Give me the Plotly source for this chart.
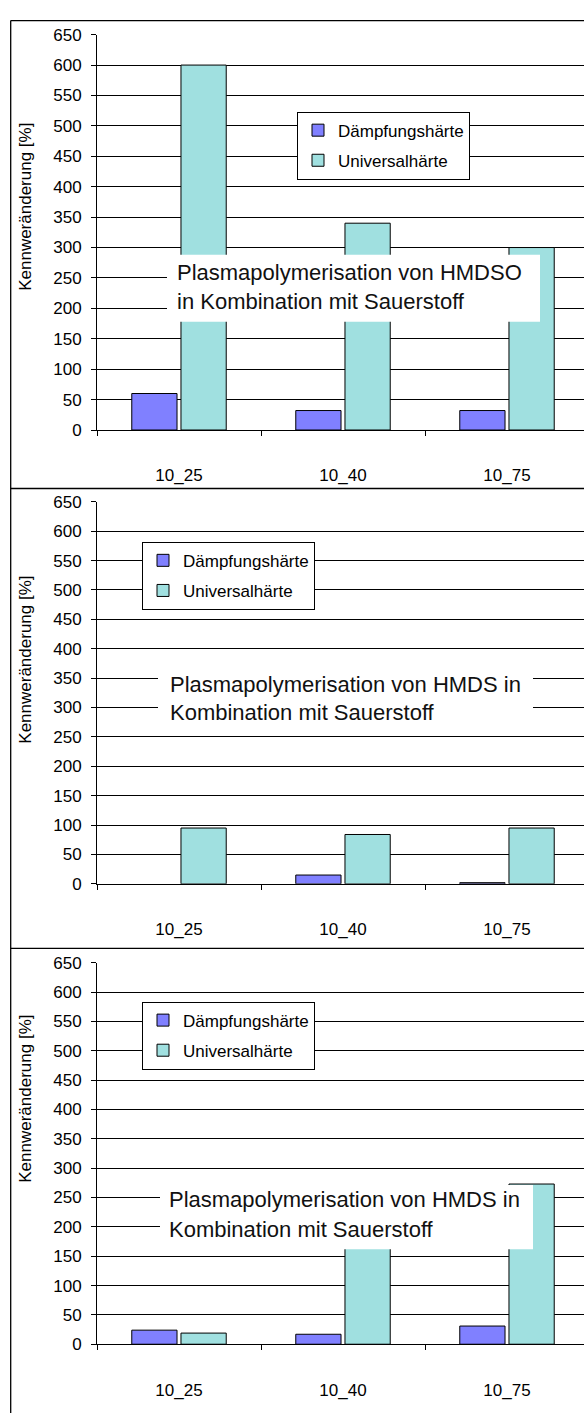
import plotly.graph_objects as go

W, H = 584, 1423

categories = ["10_25", "10_40", "10_75"]
series_names = ["Dämpfungshärte", "Universalhärte"]
p1_daempf = [60, 32, 32]
p1_universal = [600, 340, 300]
p2_daempf = [None, 15, 2]
p2_universal = [95, 84, 95]
p3_daempf = [24, 17, 31]
p3_universal = [19, 200, 273]
y_ticks = list(range(0, 651, 50))
box_texts = [
    ["Plasmapolymerisation von HMDSO", "in Kombination mit Sauerstoff"],
    ["Plasmapolymerisation von HMDS in", "Kombination mit Sauerstoff"],
    ["Plasmapolymerisation von HMDS in", "Kombination mit Sauerstoff"],
]
axis_title = "Kennweränderung [%]"

panels = [(p1_daempf, p1_universal), (p2_daempf, p2_universal), (p3_daempf, p3_universal)]
colors = ["#8080FF", "#A0E0E0"]

FONT = "Liberation Sans, Arial, sans-serif"


def px(x):
    return x / W


def py(y):
    return 1 - y / H


# layout geometry (pixels)
plot_left = 97
cat_w = 164
y_dom = [(26, 426.7), (499.5, 886.7), (966.7, 1353.3)]
legend_pos = [(297, 104), (142, 540), (142, 1006)]
title_y = [201, 660, 1105]
boxes = [
    (167, 249, 540, 317, 175, (267, 296)),
    (158, 656, 533, 730, 168, (685, 713)),
    (160, 1192, 533, 1257, 167, (1207, 1237)),
]
panel_lines = [11.7, 486, 952]

fig = go.Figure()
xs = list(range(len(categories)))
for i, (d, u) in enumerate(panels):
    sfx = "" if i == 0 else str(i + 1)
    leg = "legend" if i == 0 else f"legend{i+1}"
    for j, vals in enumerate([d, u]):
        fig.add_trace(go.Bar(
            x=xs, y=vals, name=series_names[j],
            marker=dict(color=colors[j], line=dict(color="#000000", width=1)),
            xaxis="x" + sfx, yaxis="y" + sfx, legend=leg,
            legendgroup=f"g{i}{j}",
        ))

xrange_ = [-0.5, -0.5 + (W - plot_left) / cat_w]
layout = dict(
    width=W, height=H, margin=dict(l=0, r=0, t=0, b=0),
    paper_bgcolor="white", plot_bgcolor="white",
    barmode="group", bargap=0.4, bargroupgap=0.08,
    font=dict(family=FONT, color="#000000", size=16),
    showlegend=True,
)
shapes = []
annotations = []
for i in range(3):
    sfx = "" if i == 0 else str(i + 1)
    top, bot = y_dom[i]
    layout["xaxis" + sfx] = dict(
        domain=[px(plot_left), 1], range=xrange_, anchor="y" + sfx,
        tickvals=xs, ticktext=categories, ticks="", showgrid=False,
        showline=True, linecolor="#000000", linewidth=1,
        tickfont=dict(size=17), ticklabelstandoff=30,
        minor=dict(ticks="outside", ticklen=5, tick0=0.5, dtick=1,
                   tickcolor="#000000", showgrid=False),
        zeroline=False, fixedrange=True,
    )
    layout["yaxis" + sfx] = dict(
        domain=[py(bot), py(top)], range=[0, 650], anchor="x" + sfx,
        tickvals=y_ticks, ticks="outside", ticklen=5, tickcolor="#000000",
        showgrid=True, gridcolor="#000000", gridwidth=1,
        showline=True, linecolor="#000000", linewidth=1,
        tickfont=dict(size=17), ticklabelstandoff=6,
        zeroline=False, fixedrange=True,
    )
    lx, ly = legend_pos[i]
    layout["legend" if i == 0 else f"legend{i+1}"] = dict(
        x=px(lx), y=py(ly), xanchor="left", yanchor="top",
        bgcolor="white", bordercolor="#000000", borderwidth=1,
        font=dict(size=17, family=FONT), tracegroupgap=5,
        itemwidth=30, traceorder="grouped",
    )
    annotations.append(dict(
        text=axis_title, x=px(25.5), y=py(title_y[i]), xref="paper", yref="paper",
        textangle=-90, showarrow=False, font=dict(size=17, family=FONT),
        xanchor="center", yanchor="middle",
    ))
    x0, y0, x1, y1, tx, lines_y = boxes[i]
    shapes.append(dict(type="rect", xref="paper", yref="paper",
                       x0=px(x0), x1=px(x1), y0=py(y1), y1=py(y0),
                       fillcolor="white", line=dict(width=0), layer="above"))
    for t, ty in zip(box_texts[i], lines_y):
        annotations.append(dict(
            text=t, x=px(tx), y=py(ty), xref="paper", yref="paper",
            showarrow=False, xanchor="left", yanchor="middle",
            font=dict(size=22, family=FONT, color="#111111"),
        ))

# panel frame lines
shapes.append(dict(type="line", xref="paper", yref="paper",
                   x0=px(10.7), x1=px(10.7), y0=0, y1=py(panel_lines[0]),
                   line=dict(color="#000000", width=1.3)))
for yl in panel_lines:
    shapes.append(dict(type="line", xref="paper", yref="paper",
                       x0=px(10.7), x1=1, y0=py(yl), y1=py(yl),
                       line=dict(color="#000000", width=1.3)))

layout["shapes"] = shapes
layout["annotations"] = annotations
fig.update_layout(**layout)
fig.write_html("out.html")
